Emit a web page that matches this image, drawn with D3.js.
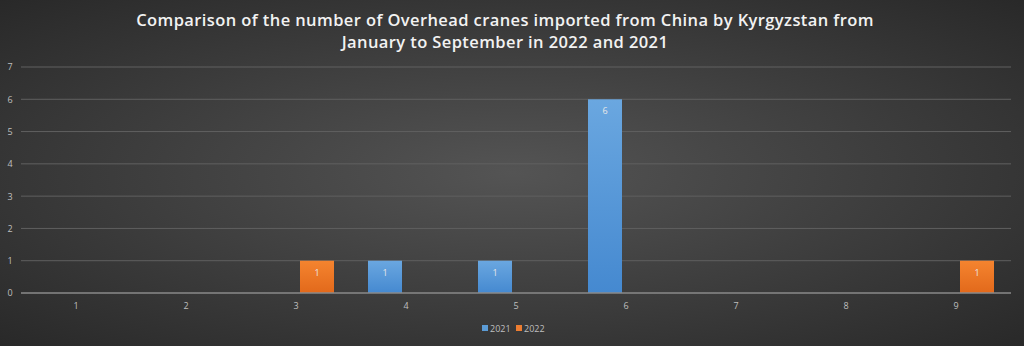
<!DOCTYPE html>
<html><head><meta charset="utf-8">
<script src="https://cdn.jsdelivr.net/npm/d3@7"></script>
<style>html,body{margin:0;padding:0;background:#333;}svg{display:block;}</style>
</head><body>
<svg id="c" width="1024" height="346"></svg>
<script>
const categories = ["1","2","3","4","5","6","7","8","9"];
const seriesNames = ["2021","2022"];
const values2021 = [null,null,null,1,1,6,null,null,null];
const values2022 = [null,null,1,null,null,null,null,null,1];
const yTicks = [0,1,2,3,4,5,6,7];
const titleLines = ["Comparison of the number of Overhead cranes imported from China by Kyrgyzstan from","January to September in 2022 and 2021"];

const svg = d3.select("#c");
const W = 1024, H = 346;
const defs = svg.append("defs");
const bg = defs.append("radialGradient").attr("id","bg").attr("cx","50%").attr("cy","50%").attr("r","75%");
bg.append("stop").attr("offset","0%").attr("stop-color","#545454");
bg.append("stop").attr("offset","100%").attr("stop-color","#262626");
const gb = defs.append("linearGradient").attr("id","gBlue").attr("x1",0).attr("y1",0).attr("x2",0).attr("y2",1);
gb.append("stop").attr("offset","0%").attr("stop-color","#6aa7e0");
gb.append("stop").attr("offset","100%").attr("stop-color","#4589d0");
const go = defs.append("linearGradient").attr("id","gOrange").attr("x1",0).attr("y1",0).attr("x2",0).attr("y2",1);
go.append("stop").attr("offset","0%").attr("stop-color","#f5842f");
go.append("stop").attr("offset","100%").attr("stop-color","#e2691b");
const fills = {"2021":"url(#gBlue)","2022":"url(#gOrange)"};
const legendFill = {"2021":"#5b9bd5","2022":"#ed7d31"};

svg.append("rect").attr("width",W).attr("height",H).attr("fill","url(#bg)");

const pLeft = 21, pRight = 1011, pTop = 67, pBottom = 293;
const x0 = d3.scaleBand().domain(categories).range([pLeft,pRight]).padding(0);
const x1 = d3.scaleBand().domain(seriesNames).range([17,93]).paddingInner(8/42).paddingOuter(0);
const y = d3.scaleLinear().domain([0,7]).range([pBottom,pTop]);

// gridlines
const grid = svg.append("g");
grid.selectAll("line").data(yTicks.filter(t=>t>0)).join("line")
  .attr("x1",pLeft).attr("x2",pRight).attr("y1",d=>y(d)).attr("y2",d=>y(d))
  .attr("stroke","#606060").attr("stroke-width",1);

// y axis labels
const yAxis = d3.axisLeft(y).tickValues(yTicks).tickSize(0).tickPadding(0).tickFormat(d3.format("d"));
const ya = svg.append("g").attr("transform",`translate(13,0)`).call(yAxis);
ya.select(".domain").remove();
ya.selectAll("text").attr("fill","#bfbfbf").attr("font-family","'Open Sans', sans-serif").attr("font-size",9).attr("text-anchor","middle").attr("dx",-3);

// bars
const data = categories.map((c,i)=>({cat:c, vals:[{s:"2021",v:values2021[i]},{s:"2022",v:values2022[i]}]}));
const groups = svg.append("g").selectAll("g").data(data).join("g")
  .attr("transform",d=>`translate(${x0(d.cat)},0)`);
groups.selectAll("rect").data(d=>d.vals.filter(e=>e.v!=null)).join("rect")
  .attr("x",d=>x1(d.s)).attr("width",x1.bandwidth())
  .attr("y",d=>y(d.v)).attr("height",d=>y(0)-y(d.v))
  .attr("fill",d=>fills[d.s]);
groups.selectAll("text").data(d=>d.vals.filter(e=>e.v!=null)).join("text")
  .attr("x",d=>x1(d.s)+x1.bandwidth()/2).attr("y",d=>y(d.v)+15)
  .attr("text-anchor","middle").attr("fill","#e8e8e8")
  .attr("font-family","'Open Sans', sans-serif").attr("font-size",9)
  .text(d=>d.v);

// baseline
svg.append("line").attr("x1",pLeft).attr("x2",pRight).attr("y1",y(0)).attr("y2",y(0))
  .attr("stroke","#8a8a8a").attr("stroke-width",1.3);

// x axis labels
const xAxis = d3.axisBottom(x0).tickSize(0).tickPadding(0);
const xa = svg.append("g").attr("transform",`translate(0,${pBottom+10})`).call(xAxis);
xa.select(".domain").remove();
xa.selectAll("text").attr("fill","#bfbfbf").attr("font-family","'Open Sans', sans-serif").attr("font-size",9).attr("dy","0.71em");

// title
svg.append("g").selectAll("text").data(titleLines).join("text")
  .attr("x",505).attr("y",(d,i)=>26+i*22)
  .attr("text-anchor","middle").attr("fill","#f2f2f2")
  .attr("font-family","'Open Sans', sans-serif").attr("font-weight","600").attr("font-size",16.5)
  .attr("letter-spacing",0.4)
  .text(d=>d);

// legend
const lg = svg.append("g").attr("transform","translate(482,324)");
const items = lg.selectAll("g").data(seriesNames).join("g").attr("transform",(d,i)=>`translate(${i*34},0)`);
items.append("rect").attr("width",6).attr("height",6).attr("y",1).attr("fill",d=>legendFill[d]);
items.append("text").attr("x",8).attr("y",7.5).attr("fill","#bfbfbf")
  .attr("font-family","'Open Sans', sans-serif").attr("font-size",9).text(d=>d);
</script>
</body></html>
